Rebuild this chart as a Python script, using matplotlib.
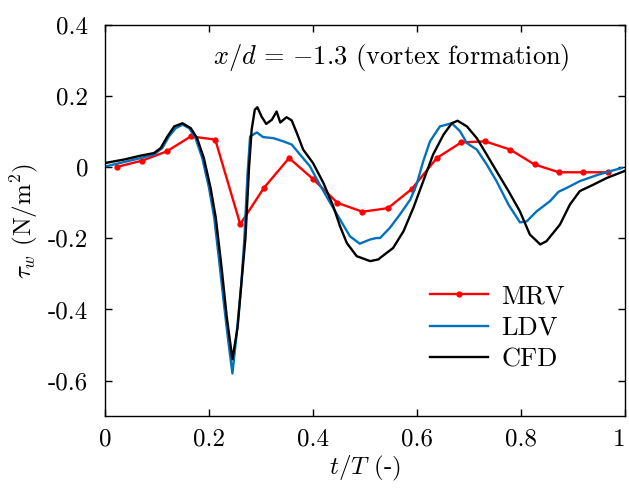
import matplotlib
matplotlib.use("Agg")
import matplotlib.pyplot as plt

plt.rcParams["font.family"] = "serif"
plt.rcParams["font.serif"] = ["cmr10", "DejaVu Serif"]
plt.rcParams["mathtext.fontset"] = "cm"

# MRV measurements
mrv_t = [0.0225, 0.072, 0.119, 0.165, 0.212, 0.26, 0.306, 0.354, 0.40, 0.447, 0.495,
         0.544, 0.590, 0.638, 0.685, 0.731, 0.779, 0.826, 0.873, 0.920, 0.967]
mrv_tau = [0.001, 0.019, 0.045, 0.087, 0.078, -0.16, -0.057, 0.026, -0.033, -0.10, -0.125,
           -0.115, -0.061, 0.026, 0.070, 0.073, 0.050, 0.008, -0.014, -0.014, -0.014]

# LDV measurements
ldv_t = [0.0, 0.037, 0.069, 0.094, 0.11, 0.123, 0.136, 0.149, 0.162, 0.174, 0.187, 0.20,
         0.21, 0.22, 0.228, 0.237, 0.245, 0.253, 0.262, 0.268, 0.274, 0.279, 0.292, 0.304,
         0.324, 0.343, 0.359, 0.375, 0.394, 0.413, 0.433, 0.452, 0.471, 0.49, 0.51, 0.522,
         0.529, 0.548, 0.567, 0.587, 0.599, 0.612, 0.625, 0.644, 0.667, 0.683, 0.696, 0.715,
         0.734, 0.753, 0.776, 0.798, 0.811, 0.83, 0.856, 0.872, 0.888, 0.913, 0.946, 0.971,
         0.994]
ldv_tau = [0.002, 0.015, 0.026, 0.036, 0.054, 0.087, 0.11, 0.12, 0.11, 0.082, 0.026, -0.058,
           -0.142, -0.27, -0.376, -0.489, -0.58, -0.47, -0.33, -0.2, -0.02, 0.087, 0.098, 0.085,
           0.082, 0.073, 0.064, 0.036, 0.003, -0.049, -0.10, -0.147, -0.194, -0.215, -0.203, -0.199,
           -0.199, -0.17, -0.133, -0.091, -0.049, 0.017, 0.073, 0.115, 0.124, 0.101, 0.068, 0.05,
           0.008, -0.039, -0.105, -0.155, -0.152, -0.124, -0.095, -0.069, -0.058, -0.039, -0.022, -0.011,
           -0.002]

# CFD results
cfd_t = [0.0, 0.037, 0.069, 0.094, 0.107, 0.12, 0.133, 0.149, 0.165, 0.177, 0.19, 0.203,
         0.213, 0.224, 0.234, 0.245, 0.255, 0.262, 0.27, 0.277, 0.282, 0.288, 0.293, 0.301,
         0.31, 0.321, 0.33, 0.337, 0.349, 0.359, 0.369, 0.381, 0.40, 0.42, 0.439, 0.452,
         0.465, 0.484, 0.51, 0.526, 0.529, 0.554, 0.574, 0.593, 0.612, 0.631, 0.651, 0.667,
         0.678, 0.696, 0.715, 0.734, 0.753, 0.776, 0.798, 0.817, 0.837, 0.849, 0.875, 0.894,
         0.913, 0.939, 0.965, 1.0]
cfd_tau = [0.012, 0.022, 0.033, 0.04, 0.054, 0.087, 0.115, 0.124, 0.11, 0.082, 0.026, -0.058,
           -0.142, -0.28, -0.42, -0.54, -0.45, -0.33, -0.2, 0.0, 0.106, 0.162, 0.169, 0.143,
           0.122, 0.134, 0.157, 0.126, 0.141, 0.132, 0.096, 0.05, 0.012, -0.044, -0.11, -0.166,
           -0.213, -0.25, -0.264, -0.259, -0.255, -0.227, -0.18, -0.114, -0.039, 0.036, 0.092, 0.124,
           0.131, 0.115, 0.082, 0.036, -0.011, -0.067, -0.124, -0.189, -0.217, -0.208, -0.161, -0.105,
           -0.067, -0.049, -0.03, -0.01]

fig = plt.figure(figsize=(6.29, 4.93), dpi=100)
ax = fig.add_axes([0.167, 0.156, 0.8266, 0.793])

ax.plot(mrv_t, mrv_tau, color="#ff0000", lw=1.7, marker="o", ms=3.5, label="MRV")
ax.plot(ldv_t, ldv_tau, color="#0072BD", lw=1.7, label="LDV")
ax.plot(cfd_t, cfd_tau, color="black", lw=1.7, label="CFD")

ax.set_xlim(0, 1)
ax.set_ylim(-0.7, 0.4)
ax.set_xticks([0, 0.2, 0.4, 0.6, 0.8, 1])
ax.set_xticklabels(["0", "0.2", "0.4", "0.6", "0.8", "1"])
ax.get_xticklabels()[-1].set_ha("right")
ax.set_yticks([-0.6, -0.4, -0.2, 0, 0.2, 0.4])
ax.set_yticklabels(["-0.6", "-0.4", "-0.2", "0", "0.2", "0.4"])
ax.tick_params(direction="in", top=True, right=True, length=5, width=1, labelsize=18)
ax.tick_params(axis="y", pad=12)
ax.tick_params(axis="x", pad=9)
for s in ax.spines.values():
    s.set_linewidth(1)

ax.set_xlabel("$t/T$ (-)", fontsize=18, labelpad=2)
ax.set_ylabel(r"$\tau_w$ (N/m$^2$)", fontsize=18, labelpad=6)

ax.text(0.55, 0.918, r"$x/d\,=\,{-}1.3$ (vortex formation)", transform=ax.transAxes,
        ha="center", va="center", fontsize=19)

ax.legend(loc="center", bbox_to_anchor=(0.755, 0.225), frameon=False, fontsize=19,
          handlelength=2.2, handletextpad=0.5, labelspacing=0.3)

fig.savefig("out.png", dpi=100)
